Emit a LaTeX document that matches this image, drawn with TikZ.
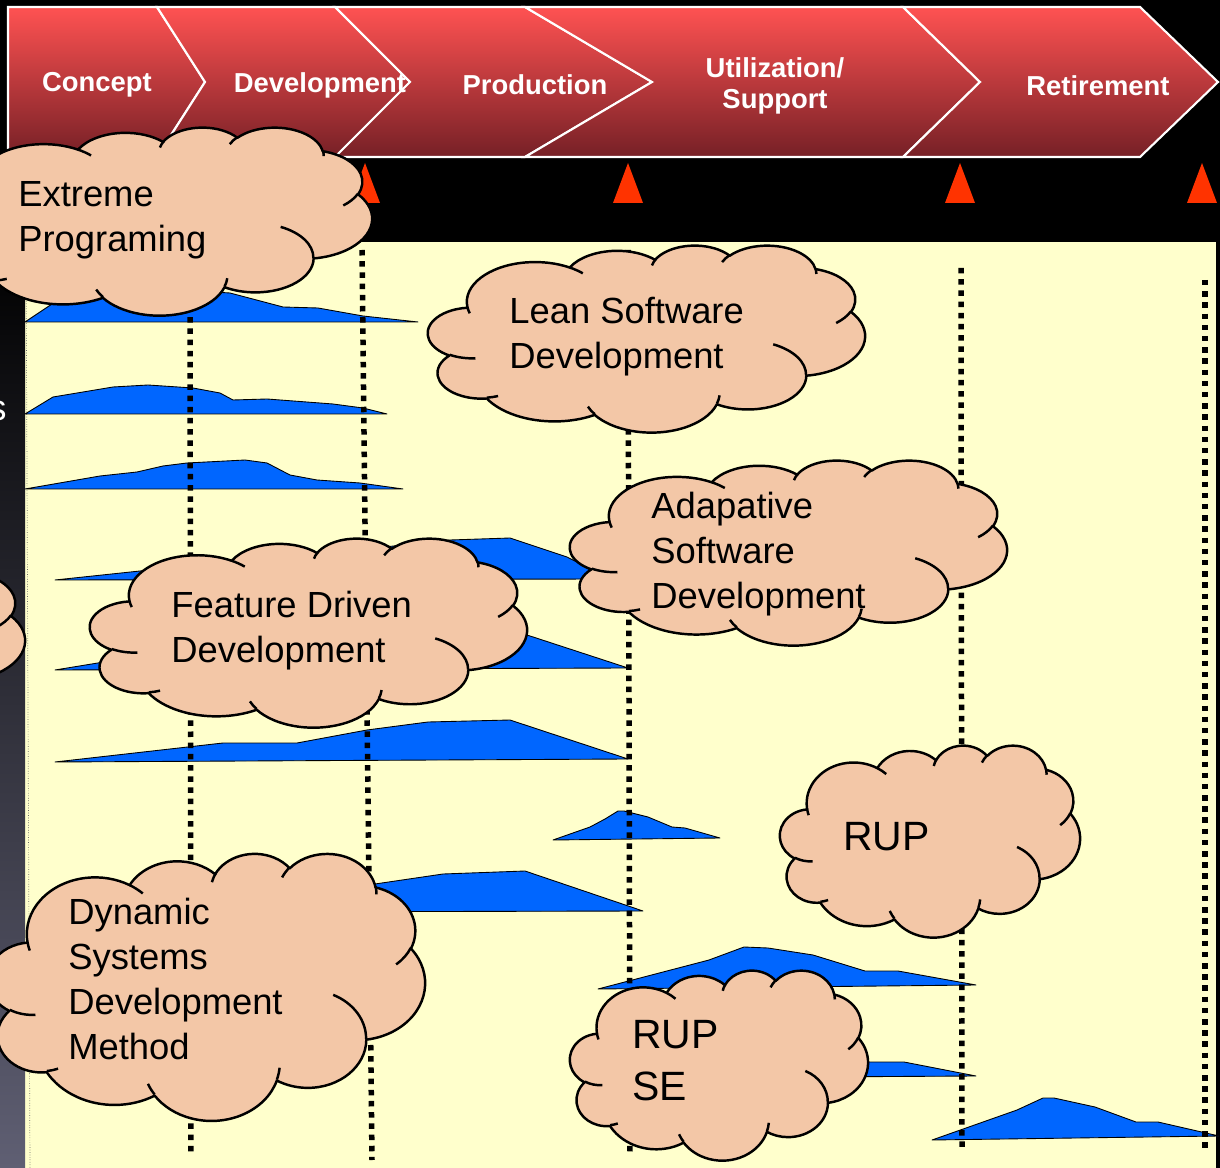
\documentclass[tikz,border=0pt]{standalone}
\usepackage{fontspec}
\setmainfont{Liberation Sans}
\definecolor{panel}{RGB}{255,255,204}
\definecolor{cloudfill}{RGB}{243,199,167}
\definecolor{humpblue}{RGB}{0,102,255}
\definecolor{gate}{RGB}{255,51,0}
\definecolor{ribtop}{RGB}{255,82,82}
\definecolor{ribbot}{RGB}{118,32,38}
\newcommand\puff[4]{\pgfextra{%
    \pgfmathparse{atan2(#1*sin(#3),#2*cos(#3))}\xdef\puffa{\pgfmathresult}%
    \pgfmathparse{atan2(#1*sin(#3+#4),#2*cos(#3+#4))}\xdef\puffb{\pgfmathresult}%
    \pgfmathparse{\puffb<\puffa?\puffb+360:\puffb}\xdef\puffb{\pgfmathresult}}%
  arc[start angle=\puffa,end angle=\puffb,x radius=#1,y radius=#2]}
\newcommand\cloudbox[4]{%
  \begin{scope}[shift={(#1,#2)},xscale=#3/4320,yscale=#4/4320]
    \path[bubble] (390,1437) \puff{675.3}{919}{-190.4875}{123.7805}
      \puff{533.3}{726.7}{-144.1024}{89.9452} \puff{436.5}{594.5}{-145.8079}{99.723}
      \puff{485.7}{659.5}{-130.9861}{117.2417} \puff{533.3}{727.3}{-78.7089}{109.0269}
      \puff{677.5}{922}{-46.2673}{130.269} \puff{578.5}{786.7}{0.625}{114.0333}
      \puff{675.2}{921.5}{22.4516}{115.1726} \puff{772}{1054.3}{66.2426}{75.711}
      \puff{436}{591.8}{-274.9421}{146.7356} \puff{434.5}{594.5}{-246.8285}{152.5189} -- cycle;
    \draw[fold] (469.3,2617.7) \puff{434.5}{594.5}{86.742}{26.4295}
      (692.8,3489.9) \puff{436}{591.8}{73.6105}{11.4475}
      (1647.8,3909) \puff{675.2}{921.5}{137.6242}{14.0811}
      (2882.7,3475.1) \puff{675.2}{921.5}{6.4533}{15.9984}
      (3412.9,2295.4) \puff{578.5}{786.7}{-70.2924}{70.9174}
      (4179.8,1535.4) \puff{533.3}{727.3}{30.318}{27.7515}
      (3832.4,542.6) \puff{485.7}{659.5}{-13.7443}{14.8589}
      (2907.8,395.2) \puff{485.7}{659.5}{-149.1815}{18.1954}
      (2214.1,472) \puff{436.5}{594.5}{-163.4943}{17.6864}
      (1400,519.2) \puff{675.3}{919}{-66.707}{12.3194}
      (412.7,1578.9) \puff{675.3}{919}{157.6544}{11.8582};
  \end{scope}}
\begin{document}
\begin{tikzpicture}[x=0.02cm,y=-0.02cm,
    phase/.style={top color=ribtop,bottom color=ribbot,draw=white,line width=1.2pt},
    lbl/.style={text=white,font=\bfseries\fontsize{15.6}{18}\selectfont,align=center},
    hump/.style={fill=humpblue,draw=black,line width=.5pt,line join=round},
    milestone/.style={line width=.11cm,dash pattern=on .11cm off .114cm},
    bubble/.style={fill=cloudfill,draw=black,line width=1.4pt,line join=round},
    fold/.style={draw=black,line width=1.4pt},
    say/.style={font=\fontsize{20.7}{25.5}\selectfont,align=left,inner sep=0pt,anchor=north west},
    saybig/.style={say,font=\fontsize{23.3}{29.5}\selectfont}]
  \useasboundingbox (0,0) rectangle (1220,1168);
  \clip (0,0) rectangle (1220,1168);
  \fill[black] (0,0) rectangle (1220,1168);
  \foreach \a/\b/\c/\d in {8/8/157/205,157/205/335/410,335/410/525/652,525/652/903/980,903/980/1140/1218}
    \path[phase] (\a,7) -- (\c,7) -- (\d,82) -- (\c,157) -- (\a,157) -- (\b,82) -- cycle;
  \node[lbl] (concept) at (97,85) {Concept};
  \node[lbl] (develop) at (320,85) {Development};
  \node[lbl] (produce) at (535,85) {Production};
  \node[lbl] (utilize) at (775,86) {Utilization/\\Support};
  \node[lbl] (retire) at (1098,86) {Retirement};
  \foreach \t in {365,628,960,1202}
    \fill[gate] (\t,163) -- (\t+15,203) -- (\t-15,203) -- cycle;
  \fill[panel] (25,242) rectangle (1216,1168);
  \shade[top color=black,middle color={rgb,255:red,8;green,8;blue,40},bottom color={rgb,255:red,95;green,95;blue,115}] (0,242) rectangle (25,1168);
  \draw[densely dotted,line width=.4pt,black!60] (26,242) -- (30,1168);
  \node[text=white,font=\fontsize{20.7}{25}\selectfont,anchor=east,inner sep=0pt] (cut) at (7,411) {s};
  \path[hump] (25,322) -- (55,302) -- (110,294) -- (180,290) -- (230,293) -- (283,307) -- (318,308) -- (363,316) -- (418,322) -- cycle;
  \path[hump] (25,414) -- (53,397) -- (113,387) -- (148,385) -- (193,388) -- (220,393) -- (233,400) -- (267,399) -- (333,404) -- (363,408) -- (387,414) -- cycle;
  \path[hump] (25,489) -- (100,476) -- (137,472) -- (163,466) -- (187,463) -- (245,460) -- (267,463) -- (290,475) -- (317,480) -- (360,483) -- (403,489) -- cycle;
  \path[hump] (55,580) -- (140,571) -- (300,556) -- (450,540) -- (510,538) -- (567,557) -- (610,579) -- cycle;
  \path[hump] (55,670) -- (110,661) -- (250,648) -- (470,632) -- (527,635) -- (628,668) -- cycle;
  \path[hump] (55,762) -- (223,743) -- (297,743) -- (367,730) -- (428,722) -- (510,720) -- (628,759) -- cycle;
  \path[hump] (553,840) -- (590,827) -- (605,819) -- (618,811) -- (624,811) -- (648,817) -- (672,827) -- (685,828) -- (720,838) -- cycle;
  \path[hump] (230,912) -- (300,896) -- (375,884) -- (443,874) -- (525,871) -- (643,911) -- cycle;
  \path[hump] (598,989) -- (709,960) -- (744,947) -- (768,948) -- (813,955) -- (865,971) -- (898,971) -- (976,985) -- cycle;
  \path[hump] (640,1078) -- (700,1066) -- (760,1062) -- (904,1062) -- (976,1076) -- cycle;
  \path[hump] (932,1140) -- (1017,1110) -- (1043,1098) -- (1054,1098) -- (1095,1107) -- (1136,1122) -- (1158,1122) -- (1219,1136) -- cycle;
  \foreach \xa/\ya/\xb/\yb in {190/250/191/1155,362/250/372/1160,628/250/630/1155,961/268/962/1152,1205/280/1205/1152}
    \draw[milestone] (\xa,\ya) -- (\xb,\yb);
  \cloudbox{-412}{548}{437}{190}
  \cloudbox{-63}{127}{435}{188}
  \node[say] (xptext) at (18,181) {Extreme\\Programing};
  \cloudbox{428}{245}{437}{187}
  \node[say] (leantext) at (509,297) {Lean Software\\Development};
  \cloudbox{570}{460}{437}{185}
  \node[say] (asdtext) at (651,492) {Adapative\\Software\\Development};
  \cloudbox{90}{538}{437}{189}
  \node[say] (fddtext) at (171,591) {Feature Driven\\Development};
  \cloudbox{780}{745}{300}{192}
  \node[saybig] (ruptext) at (843,822) {RUP};
  \cloudbox{-12}{853}{437}{267}
  \node[say] (dsdmtext) at (68,898) {Dynamic\\Systems\\Development\\Method};
  \cloudbox{570}{970}{298}{190}
  \node[saybig] (rupsetext) at (632,1020) {RUP\\SE};
\end{tikzpicture}
\end{document}
